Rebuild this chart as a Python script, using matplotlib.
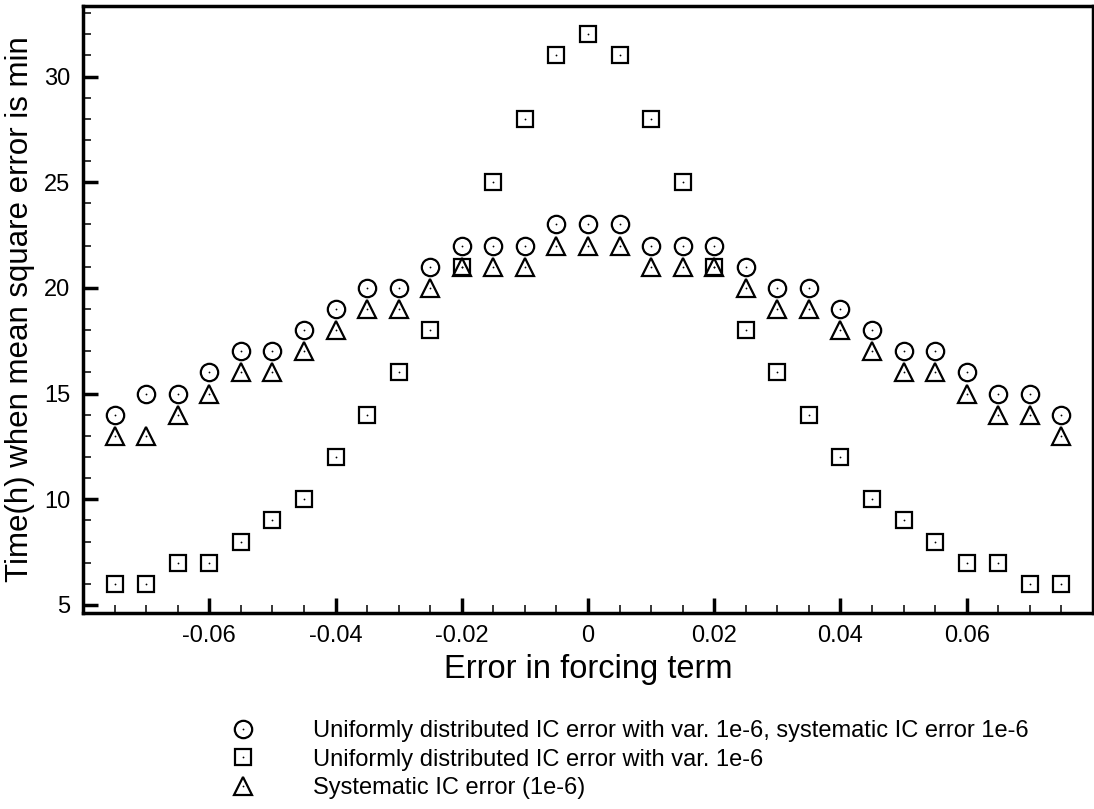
import numpy as np
import matplotlib
matplotlib.use("Agg")
import matplotlib.pyplot as plt
from matplotlib.ticker import MultipleLocator
from matplotlib.legend_handler import HandlerTuple

plt.rcParams['font.family'] = ['Liberation Sans', 'DejaVu Sans']
plt.rcParams['axes.unicode_minus'] = False

x = [-0.075, -0.07, -0.065, -0.06, -0.055, -0.05, -0.045, -0.04, -0.035, -0.03,
     -0.025, -0.02, -0.015, -0.01, -0.005, 0.0, 0.005, 0.01, 0.015, 0.02,
     0.025, 0.03, 0.035, 0.04, 0.045, 0.05, 0.055, 0.06, 0.065, 0.07, 0.075]
circles = [14, 15, 15, 16, 17, 17, 18, 19, 20, 20, 21, 22, 22, 22, 23, 23,
           23, 22, 22, 22, 21, 20, 20, 19, 18, 17, 17, 16, 15, 15, 14]
squares = [6, 6, 7, 7, 8, 9, 10, 12, 14, 16, 18, 21, 25, 28, 31, 32,
           31, 28, 25, 21, 18, 16, 14, 12, 10, 9, 8, 7, 7, 6, 6]
triangles = [13, 13, 14, 15, 16, 16, 17, 18, 19, 19, 20, 21, 21, 21, 22, 22,
             22, 21, 21, 21, 20, 19, 19, 18, 17, 16, 16, 15, 14, 14, 13]
labels = ["Uniformly distributed IC error with var. 1e-6, systematic IC error 1e-6",
          "Uniformly distributed IC error with var. 1e-6",
          "Systematic IC error (1e-6)"]
xtick_vals = [-0.06, -0.04, -0.02, 0.0, 0.02, 0.04, 0.06]
xtick_labels = ["-0.06", "-0.04", "-0.02", "0", "0.02", "0.04", "0.06"]
ytick_vals = [5, 10, 15, 20, 25, 30]

fig = plt.figure(figsize=(10.94, 8.09), dpi=100)
ax = fig.add_axes([0.0759, 0.2423, 0.9231, 0.7509])

handles = []
for ys, m, ms in [(circles, "o", 12.5), (squares, "s", 11.8), (triangles, "^", 13.5)]:
    h1, = ax.plot(x, ys, linestyle="none", marker=m, markersize=ms,
                  markerfacecolor="none", markeredgecolor="black", markeredgewidth=1.6)
    h2, = ax.plot(x, ys, linestyle="none", marker="o", markersize=1.3,
                  color="black", markeredgewidth=0)
    handles.append((h1, h2))

ax.set_xlim(-0.08, 0.08)
ax.set_ylim(4.62, 33.36)
ax.set_xticks(xtick_vals)
ax.set_xticklabels(xtick_labels)
ax.set_yticks(ytick_vals)
ax.xaxis.set_minor_locator(MultipleLocator(0.005))
ax.yaxis.set_minor_locator(MultipleLocator(1))
ax.tick_params(which="both", direction="in", top=False, right=False, labelsize=17)
ax.tick_params(which="major", length=11, width=2.5, pad=9)
ax.tick_params(which="minor", length=5.5, width=1.1)
for s in ax.spines.values():
    s.set_linewidth(2.5)

ax.set_xlabel("Error in forcing term", fontsize=23.5, labelpad=5)
ax.set_ylabel("Time(h) when mean square error is min", fontsize=22.5, labelpad=7)

fig.legend(handles, labels, loc="upper left", bbox_to_anchor=(231 / 1094, 1 - 720 / 809),
           frameon=False, fontsize=17, handlelength=1, handletextpad=2.46,
           borderpad=0, borderaxespad=0, labelspacing=0.28,
           handler_map={tuple: HandlerTuple(ndivide=1, pad=0)})

fig.savefig("out.png", dpi=100)
